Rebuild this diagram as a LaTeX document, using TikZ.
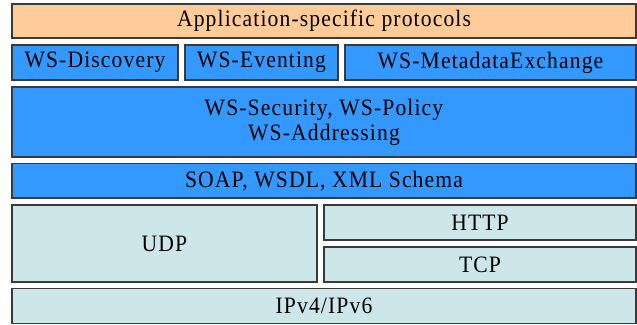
\documentclass[tikz,border=0pt]{standalone}
\usepackage{fontspec}
\setmainfont{Liberation Serif}[LetterSpace=4.8, FakeStretch=0.92]
\definecolor{orangebox}{HTML}{FFCC99}
\definecolor{bluebox}{HTML}{3399FF}
\definecolor{cyanbox}{HTML}{CCE6EA}
\definecolor{edgecol}{HTML}{3A3A3A}
\tikzset{
  layer/.style={draw=edgecol, line width=1.1pt, inner sep=0pt, outer sep=0pt,
    font=\fontsize{23.5}{25}\selectfont, align=center, text=black},
  app/.style={layer, fill=orangebox},
  ws/.style={layer, fill=bluebox},
  net/.style={layer, fill=cyanbox},
}
\begin{document}
\begin{tikzpicture}[x=1pt, y=-1pt]
\useasboundingbox (0,0) rectangle (637,324);
\node[app, minimum width=624pt, minimum height=34pt] (app) at (324,21) {Application-specific protocols};
\node[ws, minimum width=166pt, minimum height=35pt] (disc) at (95,62.5) {WS-Discovery};
\node[ws, minimum width=153pt, minimum height=35pt] (evt) at (261.5,62.5) {WS-Eventing};
\node[ws, minimum width=291pt, minimum height=35pt] (meta) at (490.5,62.5) {WS-MetadataExchange};
\node[ws, minimum width=624pt, minimum height=70pt] (sec) at (324,122) {WS-Security, WS-Policy\\WS-Addressing};
\node[ws, minimum width=624pt, minimum height=34.5pt] (soap) at (324,180.75) {SOAP, WSDL, XML Schema};
\node[net, minimum width=305pt, minimum height=77pt] (udp) at (164.5,243.5) {UDP};
\node[net, minimum width=312pt, minimum height=35pt] (http) at (480,222.5) {HTTP};
\node[net, minimum width=312pt, minimum height=35pt] (tcp) at (480,264.5) {TCP};
\node[net, minimum width=624pt, minimum height=35pt] (ip) at (324,306) {IPv4/IPv6};
\end{tikzpicture}
\end{document}
